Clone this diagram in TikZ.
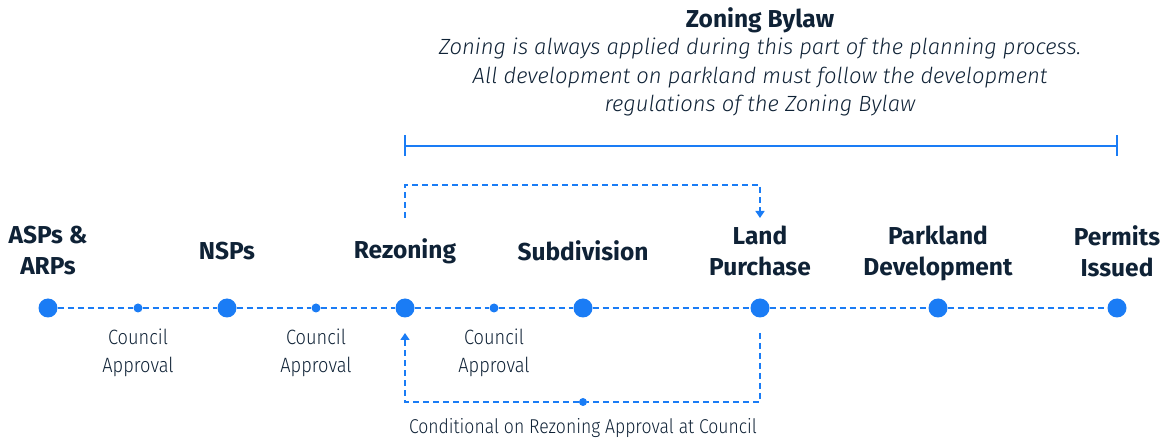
\documentclass[tikz,border=0pt]{standalone}
\usepackage{fontspec}
\setmainfont{Fira Sans}
\newfontfamily\thinfont{Fira Sans Light}[FakeStretch=0.88]
\newfontfamily\thinitfont{Fira Sans Light Italic}
\usetikzlibrary{arrows.meta}
\definecolor{lineblue}{HTML}{1A7CF5}
\definecolor{inkblue}{HTML}{0F2236}

\tikzset{
  bigdot/.style = {circle, fill = lineblue, inner sep = 0pt, minimum size = 19pt},
  smalldot/.style = {circle, fill = lineblue, inner sep = 0pt, minimum size = 9pt},
  steplabel/.style = {text = inkblue, font = \bfseries\fontsize{24.5}{31}\selectfont, align = center, inner sep = 0pt},
  notelabel/.style = {text = inkblue, font = \thinfont\fontsize{20.7}{28}\selectfont, align = center, inner sep = 0pt},
  dashline/.style = {lineblue, line width = 1.4pt, dash pattern = on 6pt off 4pt},
}

\begin{document}
\begin{tikzpicture}[x = 1pt, y = -1pt]
		\tikzset{> = {Triangle[width = 9pt, length = 7pt]}}
		\useasboundingbox (0,0) rectangle (1165,443);
		% main steps along the line
		\node[bigdot] (asp) at (48,308){};
		\node[bigdot] (nsp) at (227,308){};
		\node[bigdot] (rez) at (405,308){};
		\node[bigdot] (sub) at (583,308){};
		\node[bigdot] (land) at (760,308){};
		\node[bigdot] (park) at (938,308){};
		\node[bigdot] (perm) at (1117,308){};
		\node[smalldot] (ca1) at (138,308){};
		\node[smalldot] (ca2) at (316,308){};
		\node[smalldot] (ca3) at (494,308){};
		\draw[dashline] (asp) -- (ca1) -- (nsp) -- (ca2) -- (rez) -- (ca3) -- (sub) -- (land) -- (park) -- (perm);
		% step names
		\node[steplabel] (aspt) at (48,251) {ASPs \&\\ARPs};
		\node[steplabel] (nspt) at (227,251) {NSPs};
		\node[steplabel] (rezt) at (405,251) {Rezoning};
		\node[steplabel] (subt) at (583,251) {Subdivision};
		\node[steplabel] (landt) at (760,251) {Land\\Purchase};
		\node[steplabel] (parkt) at (938,253) {Parkland\\Development};
		\node[steplabel] (permt) at (1117,251) {Permits\\Issued};
		% council approvals
		\node[notelabel] (ca1t) at (138,353) {Council\\Approval};
		\node[notelabel] (ca2t) at (316,353) {Council\\Approval};
		\node[notelabel] (ca3t) at (494,353) {Council\\Approval};
		% rezoning to land purchase
		\coordinate (topstart) at (405,218);
		\coordinate (topend) at (760,218);
		\draw[dashline, ->] (topstart) |- (583,185) -| (topend);
		% land purchase back to rezoning
		\coordinate (botstart) at (760,333);
		\coordinate (botend) at (405,333);
		\node[smalldot, minimum size = 8pt] (cond) at (583,402){};
		\draw[dashline] (botstart) |- (cond);
		\draw[dashline, ->] (cond) -| (botend);
		\node[notelabel, font = \thinfont\fontsize{20}{28}\selectfont] (condt) at (583,428) {Conditional on Rezoning Approval at Council};
		% zoning bylaw span
		\coordinate (zl) at (405,146);
		\coordinate (zr) at (1117,146);
		\draw[lineblue, line width = 1.4pt] (zl) -- (zr);
		\draw[lineblue, line width = 1.4pt] ([yshift = -10pt]zl) -- ([yshift = 11pt]zl);
		\draw[lineblue, line width = 1.4pt] ([yshift = -10pt]zr) -- ([yshift = 11pt]zr);
		\node[steplabel] (zbt) at (760,20) {Zoning Bylaw};
		\node[notelabel, font = \thinitfont\fontsize{22}{28.5}\selectfont] (zbd) at (760,77) {Zoning is always applied during this part of the planning process.\\All development on parkland must follow the development\\regulations of the Zoning Bylaw};
	\end{tikzpicture}
\end{document}
